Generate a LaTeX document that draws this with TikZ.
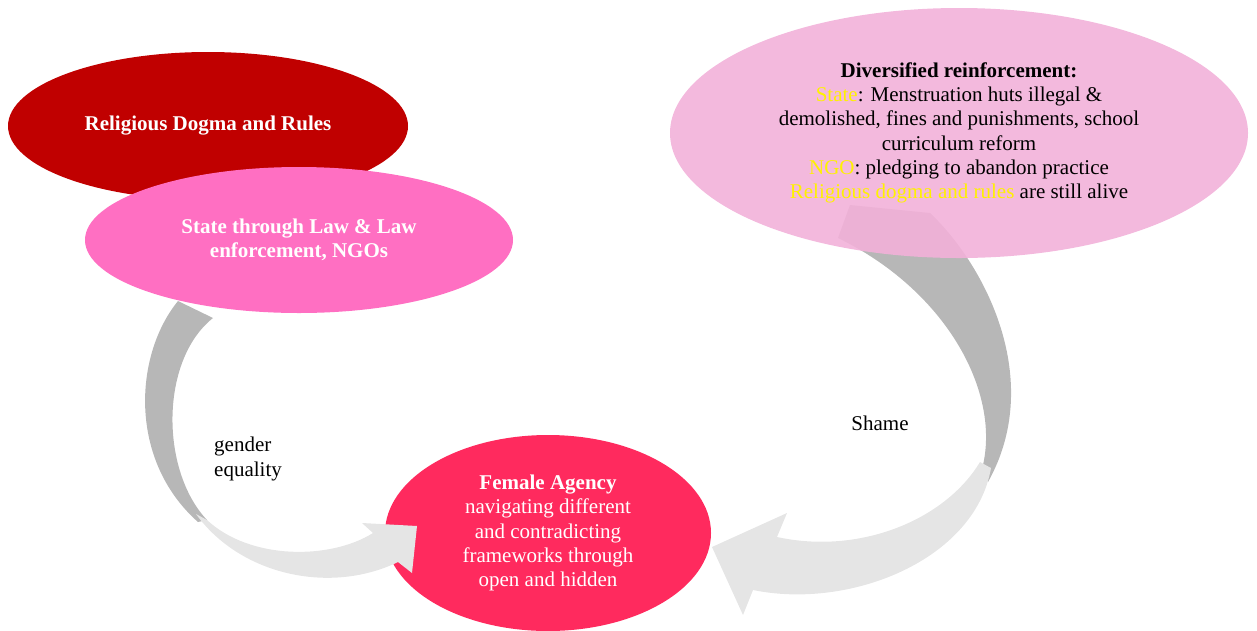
\documentclass[tikz,border=0pt]{standalone}
\usepackage{fontspec}
\setmainfont{Liberation Serif}
\usetikzlibrary{shapes.geometric}
\definecolor{religred}{RGB}{192,0,0}
\definecolor{statepink}{RGB}{255,111,194}
\definecolor{divpink}{RGB}{242,177,217}
\definecolor{agencyred}{RGB}{255,42,94}
\definecolor{arrowdark}{RGB}{183,183,183}
\definecolor{arrowlight}{RGB}{229,229,229}

\begin{document}
\begin{tikzpicture}[x=1pt,y=-1pt,
  blob/.style={ellipse, inner sep=0pt, align=center},
  bigtext/.style={font=\fontsize{21}{24.3}\selectfont}]
\useasboundingbox (0,0) rectangle (1257,630);

\node[blob, bigtext, fill=agencyred, text=white, minimum width=326, minimum height=196] (Pagency) at (548,533)
  {\textbf{Female Agency}\\navigating different\\and contradicting\\frameworks through\\open and hidden};

\fill[arrowdark] (213,318) -- (178,301)
  .. controls (134,355) and (128,460) .. (198,522)
  -- (207,520) .. controls (160,470) and (160,360) .. (213,318) -- cycle;
\fill[arrowlight] (196,514) .. controls (240,575) and (330,595) .. (398,562)
  -- (412,573) -- (417,526) -- (362,523) -- (373,533)
  .. controls (330,560) and (250,560) .. (207,520) -- cycle;

\fill[arrowdark] (838,238) -- (850,205) -- (930,213)
  .. controls (985,265) and (1045,380) .. (988,482)
  -- (983,465) .. controls (1000,390) and (945,290) .. (838,238) -- cycle;
\fill[arrowlight] (991,468) .. controls (975,560) and (850,610) .. (753,590)
  -- (743,615) -- (712,547) -- (787,513) -- (777,537)
  .. controls (860,555) and (945,520) .. (980,462) -- cycle;

\node[blob, bigtext, fill=religred, text=white, minimum width=400, minimum height=148] (Prelig) at (208,126)
  {\textbf{Religious Dogma and Rules}};
\node[blob, bigtext, fill=statepink, text=white, minimum width=428, minimum height=146] (Pstate) at (299,240)
  {\textbf{State through Law \& Law}\\\textbf{enforcement, NGOs}};
\node[blob, bigtext, fill=divpink, fill opacity=0.9, text opacity=1, minimum width=578, minimum height=250] (Pdiv) at (959,133)
  {\textbf{Diversified reinforcement:}\\
   \textcolor{yellow}{State}: Menstruation huts illegal \&\\
   demolished, fines and punishments, school\\
   curriculum reform\\
   \textcolor{yellow}{NGO}: pledging to abandon practice\\
   \textcolor{yellow}{Religious dogma and rules} are still alive};

\node[bigtext, align=left, anchor=west, inner sep=0pt] (Pgender) at (214,459) {gender\\equality};
\node[bigtext, inner sep=0pt] (Pshame) at (880,423) {Shame};
\end{tikzpicture}
\end{document}
